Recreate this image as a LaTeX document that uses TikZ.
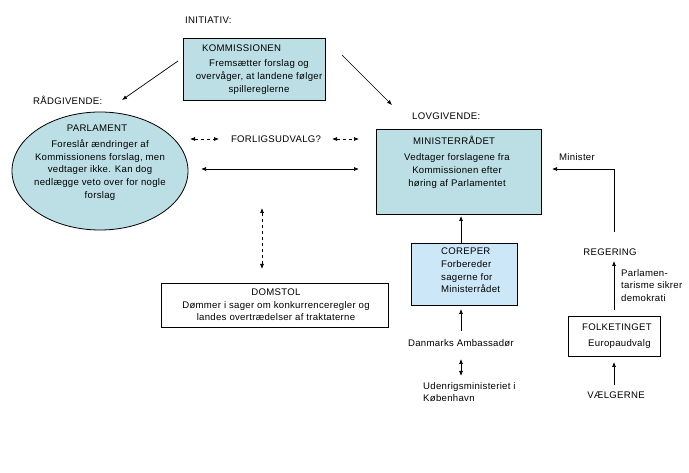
\documentclass[tikz,border=0pt]{standalone}
\usepackage{fontspec}
\setmainfont{Liberation Sans}[LetterSpace=3]
\usetikzlibrary{arrows.meta,shapes.geometric}
\definecolor{teal1}{HTML}{BCDFE5}
\definecolor{blue1}{HTML}{CCE7F8}
\begin{document}
\begin{tikzpicture}[x=1pt,y=-1pt,
  every node/.style={font=\fontsize{9.6}{12.6}\selectfont, inner sep=0pt},
  box/.style={draw, line width=0.8pt},
  lbl/.style={anchor=west},
  arr/.style={-{Latex[length=5pt,width=4pt]}, line width=0.7pt},
  darr/.style={{Latex[length=5pt,width=4pt]}-{Latex[length=5pt,width=4pt]}, line width=0.7pt},
  dsh/.style={dashed, dash pattern=on 3pt off 3pt}]
\useasboundingbox (0,0) rectangle (689,473);
% Kommissionen
\node[lbl] (init) at (185,20) {INITIATIV:};
\node[box, fill=teal1, minimum width=142pt, minimum height=62pt, anchor=north west] (kom) at (183,38) {};
\node[lbl] (komt) at (202,48) {KOMMISSIONEN};
\node[align=center] (komb) at (259,77) {Fremsætter forslag og\\overvåger, at landene følger\\spillereglerne};
% Parlament
\node[lbl] (raad) at (33,100) {RÅDGIVENDE:};
\node[box, ellipse, fill=teal1, minimum width=176pt, minimum height=118pt] (parl) at (100,171) {};
\node (parlt) at (97,128) {PARLAMENT};
\node[align=center] (parlb) at (100,170) {Foreslår ændringer af\\Kommissionens forslag, men\\vedtager ikke. Kan dog\\nedlægge veto over for nogle\\forslag};
% Ministerraadet
\node[lbl] (lov) at (412,116) {LOVGIVENDE:};
\node[box, fill=teal1, minimum width=165pt, minimum height=85pt, anchor=north west] (mr) at (376,129) {};
\node[lbl] (mrt) at (413,140) {MINISTERRÅDET};
\node[align=center] (mrb) at (457,171) {Vedtager forslagene fra\\Kommissionen efter\\høring af Parlamentet};
% Forligsudvalg
\node (forl) at (276,139) {FORLIGSUDVALG?};
\coordinate (f1a) at (190,139); \coordinate (f1b) at (219,139);
\coordinate (f2a) at (332,139); \coordinate (f2b) at (359,139);
\draw[darr, dsh] (f1a) -- (f1b);
\draw[darr, dsh] (f2a) -- (f2b);
% solid double arrow
\coordinate (sa) at (201,169); \coordinate (sb) at (359,169);
\draw[darr] (sa) -- (sb);
% Kommissionen arrows
\coordinate (k1) at (178,61); \coordinate (k1e) at (122,100);
\draw[arr] (k1) -- (k1e);
\coordinate (k2) at (342,55); \coordinate (k2e) at (392,105);
\draw[arr] (k2) -- (k2e);
% Domstol
\node[box, minimum width=227pt, minimum height=44pt, anchor=north west] (dom) at (161,283) {};
\node[align=center] (domb) at (276,305) {DOMSTOL\\Dømmer i sager om konkurrenceregler og\\landes overtrædelser af traktaterne};
\coordinate (d1) at (262,208); \coordinate (d2) at (262,269);
\draw[darr, dsh] (d1) -- (d2);
% COREPER
\node[box, fill=blue1, minimum width=106pt, minimum height=62pt, anchor=north west] (cor) at (411,243) {};
\node[align=left, anchor=north west] (corb) at (441,248) {COREPER\\Forbereder\\sagerne for\\Ministerrådet};
\draw[arr] (cor.north -| 461,0) -- (461,216);
% Ambassadoer
\node (amb) at (461,343) {Danmarks Ambassadør};
\coordinate (ambtop) at (461,331);
\draw[arr] (ambtop) -- (461,309);
\coordinate (u1) at (461,359); \coordinate (u2) at (461,376);
\draw[darr] (u1) -- (u2);
\node[align=left, anchor=north west] (ude) at (423,382) {Udenrigsministeriet i\\København};
% Right column
\node[lbl] (min) at (559,157) {Minister};
\node (reg) at (610,252) {REGERING};
\coordinate (rc) at (614,169);
\coordinate (rb) at (614,232);
\coordinate (rtip) at (552,169);
\draw[arr] (rb) -- (rc) -- (rtip);
\node[box, minimum width=92pt, minimum height=40pt, anchor=north west] (folk) at (568,316) {};
\node[lbl] (folkt) at (582,327) {FOLKETINGET};
\node[lbl] (folkb) at (588,344) {Europaudvalg};
\draw[arr] (folk.north -| 614,0) ++(0,-6) -- (614,261);
\node[align=left, anchor=north west] (parlm) at (621,269) {Parlamen-\\tarisme sikrer\\demokrati};
\node (vael) at (616,395) {VÆLGERNE};
\draw[arr] (614,385) -- (614,362);
\end{tikzpicture}
\end{document}
